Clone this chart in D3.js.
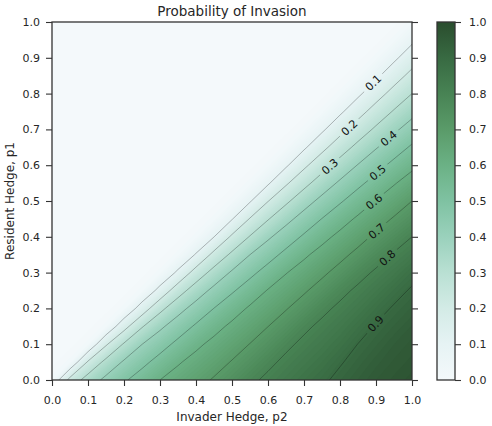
<!DOCTYPE html>
<html>
<head>
<meta charset="utf-8">
<script src="https://cdn.jsdelivr.net/npm/d3@7/dist/d3.min.js"></script>
<style>
  body { margin: 0; background: #fff; }
  svg text { font-family: "DejaVu Sans", sans-serif; fill: #262626; }
</style>
</head>
<body>
<svg id="chart" width="492" height="426"></svg>
<script>
// probability, rows p1 = 1.00 (top) .. 0.00 (bottom), columns p2 = 0.00 .. 1.00, step 0.05
var probRows = [
  [0,0,0,0,0,0,0,0,0,0,0,0,0,0,0,0,0,0,0,0,.02],
  [0,0,0,0,0,0,0,0,0,0,0,0,0,0,0,0,0,0,0,.02,.082],
  [0,0,0,0,0,0,0,0,0,0,0,0,0,0,0,0,0,0,.02,.082,.154],
  [0,0,0,0,0,0,0,0,0,0,0,0,0,0,0,0,0,.02,.082,.156,.229],
  [0,0,0,0,0,0,0,0,0,0,0,0,0,0,0,0,.02,.082,.159,.234,.30],
  [0,0,0,0,0,0,0,0,0,0,0,0,0,0,0,.02,.083,.163,.240,.308,.371],
  [0,0,0,0,0,0,0,0,0,0,0,0,0,0,.02,.084,.168,.246,.316,.382,.443],
  [0,0,0,0,0,0,0,0,0,0,0,0,0,.02,.086,.173,.254,.326,.393,.454,.513],
  [0,0,0,0,0,0,0,0,0,0,0,0,.02,.087,.180,.262,.336,.404,.466,.525,.58],
  [0,0,0,0,0,0,0,0,0,0,0,.02,.089,.187,.271,.347,.415,.478,.536,.593,.641],
  [0,0,0,0,0,0,0,0,0,0,.02,.092,.197,.282,.359,.427,.489,.548,.604,.651,.70],
  [0,0,0,0,0,0,0,0,0,.02,.095,.206,.294,.371,.439,.502,.561,.614,.661,.708,.75],
  [0,0,0,0,0,0,0,0,.02,.099,.216,.306,.385,.451,.513,.573,.623,.669,.716,.759,.80],
  [0,0,0,0,0,0,0,.02,.107,.228,.319,.400,.463,.525,.585,.632,.677,.722,.767,.807,.838],
  [0,0,0,0,0,0,.02,.117,.241,.334,.412,.476,.537,.596,.639,.684,.728,.774,.811,.842,.877],
  [0,0,0,0,0,.02,.130,.256,.349,.425,.488,.548,.605,.646,.690,.733,.779,.814,.844,.877,.908],
  [0,0,0,0,.02,.145,.273,.365,.437,.501,.559,.612,.652,.695,.737,.782,.815,.843,.876,.907,.927],
  [0,0,0,.02,.164,.292,.381,.450,.512,.570,.618,.657,.699,.740,.785,.816,.842,.873,.905,.926,.946],
  [0,0,.02,.188,.310,.399,.462,.523,.581,.624,.662,.702,.742,.785,.816,.841,.868,.901,.923,.945,.959],
  [0,.02,.211,.328,.412,.475,.534,.591,.630,.666,.705,.744,.784,.816,.841,.865,.895,.919,.941,.957,.969],
  [.02,.232,.345,.425,.488,.544,.600,.636,.671,.708,.746,.785,.815,.840,.865,.890,.914,.936,.955,.968,.980]
];

var levels = [0.1, 0.2, 0.3, 0.4, 0.5, 0.6, 0.7, 0.8, 0.9];
// where the inline labels sit (p2, p1)
var labelSpots = [
  [0.888, 0.835], [0.823, 0.708], [0.772, 0.596], [0.934, 0.676], [0.902, 0.583],
  [0.893, 0.500], [0.902, 0.416], [0.930, 0.343], [0.897, 0.159]
];
var xTicks = [0, 0.1, 0.2, 0.3, 0.4, 0.5, 0.6, 0.7, 0.8, 0.9, 1.0];
var yTicks = [0, 0.1, 0.2, 0.3, 0.4, 0.5, 0.6, 0.7, 0.8, 0.9, 1.0];
var cbTicks = [0, 0.1, 0.2, 0.3, 0.4, 0.5, 0.6, 0.7, 0.8, 0.9, 1.0];
var cmapStops = [0, 0.1, 0.2, 0.3, 0.4, 0.5, 0.6, 0.7, 0.8, 0.9, 1.0];
var cmapColors = ["#f4f9fb", "#e6f3f4", "#d3ebe6", "#b9e0d3", "#9ad1bc", "#7fc2a2", "#6bb185", "#5a9b69", "#488354", "#386a42", "#2a4d2e"];

var svg = d3.select("#chart");
var nx = probRows[0].length, ny = probRows.length;
var values = [].concat.apply([], probRows);

var x = d3.scaleLinear().domain([0, 1]).range([52, 412]);
var y = d3.scaleLinear().domain([0, 1]).range([380, 22]);
// contour grid coords -> pixels (sample i sits at i + 0.5)
var gx = d3.scaleLinear().domain([0.5, nx - 0.5]).range([x(0), x(1)]);
var gy = d3.scaleLinear().domain([0.5, ny - 0.5]).range([y(1), y(0)]);
var color = d3.scaleLinear().domain(cmapStops).range(cmapColors).clamp(true);

var proj = d3.geoTransform({
  point: function (px, py) { this.stream.point(gx(px), gy(py)); }
});
var path = d3.geoPath(proj);

var defs = svg.append("defs");
defs.append("clipPath").attr("id", "plotClip")
  .append("rect").attr("x", x(0)).attr("y", y(1)).attr("width", x(1) - x(0)).attr("height", y(0) - y(1));

var plot = svg.append("g").attr("clip-path", "url(#plotClip)");

// smooth shading: many stacked filled contours
plot.append("rect").attr("x", x(0)).attr("y", y(1)).attr("width", x(1) - x(0)).attr("height", y(0) - y(1))
  .attr("fill", color(0));
var fillLevels = d3.range(0.005, 1, 0.01);
var bands = d3.contours().size([nx, ny]).thresholds(fillLevels)(values);
plot.selectAll("path.band").data(bands).join("path")
  .attr("class", "band")
  .attr("d", path)
  .attr("fill", function (d) { return color(d.value + 0.005); });

// contour lines
var lines = d3.contours().size([nx, ny]).thresholds(levels)(values);

// find label position + angle on each line
function toPixels(contour) {
  var rings = [];
  contour.coordinates.forEach(function (poly) {
    poly.forEach(function (ring) {
      rings.push(ring.map(function (p) { return [gx(p[0]), gy(p[1])]; }));
    });
  });
  return rings;
}
var labels = levels.map(function (lv, k) {
  var tx = x(labelSpots[k][0]), ty = y(labelSpots[k][1]);
  var best = null;
  toPixels(lines[k]).forEach(function (ring) {
    for (var i = 1; i < ring.length; i++) {
      var a = ring[i - 1], b = ring[i];
      var dx = b[0] - a[0], dy = b[1] - a[1], len2 = dx * dx + dy * dy;
      if (!len2) continue;
      var t = Math.max(0, Math.min(1, ((tx - a[0]) * dx + (ty - a[1]) * dy) / len2));
      var qx = a[0] + t * dx, qy = a[1] + t * dy;
      if (qx < x(0) || qx > x(1) || qy < y(1) || qy > y(0)) continue;
      var dist = (qx - tx) * (qx - tx) + (qy - ty) * (qy - ty);
      if (!best || dist < best.dist) {
        var ang = Math.atan2(dy, dx) * 180 / Math.PI;
        if (ang > 90) ang -= 180;
        if (ang < -90) ang += 180;
        best = {x: qx, y: qy, ang: ang, dist: dist, value: lv};
      }
    }
  });
  return best;
});

var mask = defs.append("mask").attr("id", "labelGaps")
  .attr("maskUnits", "userSpaceOnUse").attr("x", 0).attr("y", 0).attr("width", 492).attr("height", 426);
mask.append("rect").attr("x", 0).attr("y", 0).attr("width", 492).attr("height", 426).attr("fill", "white");

var labelG = svg.append("g");
labels.forEach(function (l) {
  if (!l) return;
  var t = labelG.append("text")
    .attr("transform", "translate(" + l.x + "," + l.y + ") rotate(" + l.ang + ")")
    .attr("text-anchor", "middle")
    .attr("dy", "0.36em")
    .style("font-size", "11px")
    .style("fill", "#111")
    .text(d3.format(".1f")(l.value));
  var w = t.node().getComputedTextLength() + 8;
  mask.append("rect")
    .attr("x", -w / 2).attr("y", -7).attr("width", w).attr("height", 14)
    .attr("transform", "translate(" + l.x + "," + l.y + ") rotate(" + l.ang + ")")
    .attr("fill", "black");
});

plot.append("g").attr("mask", "url(#labelGaps)")
  .selectAll("path.line").data(lines).join("path")
  .attr("class", "line")
  .attr("d", path)
  .attr("fill", "none")
  .attr("stroke", "#000")
  .attr("stroke-opacity", 0.35)
  .attr("stroke-width", 0.8);

svg.node().appendChild(labelG.node());

// axes
function styleAxis(g) {
  g.select(".domain").remove();
  g.selectAll(".tick line").attr("stroke", "#333").attr("stroke-width", 1.1);
  g.selectAll(".tick text").style("font-size", "11px").style("fill", "#262626");
}
var fmt = d3.format(".1f");
svg.append("g").attr("transform", "translate(0," + y(0) + ")")
  .call(d3.axisBottom(x).tickValues(xTicks).tickFormat(fmt).tickSize(6).tickPadding(10))
  .call(styleAxis);
svg.append("g").attr("transform", "translate(" + x(0) + ",0)")
  .call(d3.axisLeft(y).tickValues(yTicks).tickFormat(fmt).tickSize(6).tickPadding(6))
  .call(styleAxis);
svg.append("g").attr("transform", "translate(" + x(1) + ",0)")
  .call(d3.axisRight(y).tickValues(yTicks).tickFormat("").tickSize(6))
  .call(styleAxis);

svg.append("rect").attr("x", x(0)).attr("y", y(1)).attr("width", x(1) - x(0)).attr("height", y(0) - y(1))
  .attr("fill", "none").attr("stroke", "#333").attr("stroke-width", 1.3);

svg.append("text").attr("x", (x(0) + x(1)) / 2).attr("y", 16).attr("text-anchor", "middle")
  .style("font-size", "13.5px").text("Probability of Invasion");
svg.append("text").attr("x", (x(0) + x(1)) / 2).attr("y", 421).attr("text-anchor", "middle")
  .style("font-size", "12px").text("Invader Hedge, p2");
svg.append("text").attr("transform", "translate(14," + ((y(0) + y(1)) / 2) + ") rotate(-90)")
  .attr("text-anchor", "middle").style("font-size", "12px").text("Resident Hedge, p1");

// colorbar
var cbX = 437, cbW = 18;
var cb = d3.scaleLinear().domain([0, 1]).range([380, 22]);
var grad = defs.append("linearGradient").attr("id", "cbGrad")
  .attr("x1", 0).attr("y1", 1).attr("x2", 0).attr("y2", 0);
grad.selectAll("stop").data(cmapStops).join("stop")
  .attr("offset", function (d) { return d; })
  .attr("stop-color", function (d, i) { return cmapColors[i]; });
svg.append("rect").attr("x", cbX).attr("y", cb(1)).attr("width", cbW).attr("height", cb(0) - cb(1))
  .attr("fill", "url(#cbGrad)").attr("stroke", "#333").attr("stroke-width", 1.3);
svg.append("g").attr("transform", "translate(" + (cbX + cbW) + ",0)")
  .call(d3.axisRight(cb).tickValues(cbTicks).tickFormat(fmt).tickSize(6).tickPadding(8))
  .call(styleAxis);
</script>
</body>
</html>
